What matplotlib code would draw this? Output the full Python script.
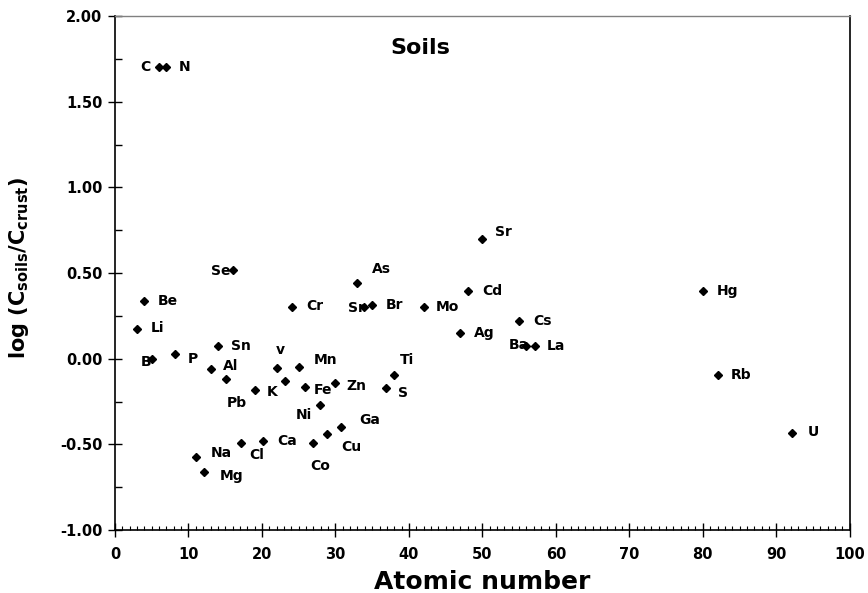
import matplotlib
matplotlib.use("Agg")
import matplotlib.pyplot as plt
from matplotlib.ticker import MultipleLocator, FormatStrFormatter

plt.rcParams['font.family'] = ['DejaVu Sans']
plt.rcParams['font.weight'] = 'bold'
plt.rcParams['mathtext.fontset'] = 'custom'
plt.rcParams['mathtext.rm'] = 'DejaVu Sans:bold'
plt.rcParams['mathtext.bf'] = 'DejaVu Sans:bold'
plt.rcParams['mathtext.it'] = 'DejaVu Sans:bold'

# Data points (atomic number position, log(Csoils/Ccrust))
point_x = [6.0, 7.0, 4.0, 3.0, 5.1, 8.1, 14.0, 13.0, 15.1, 16.1, 24.1,
           22.1, 25.1, 23.1, 19.1, 25.9, 29.9, 27.9, 30.8, 38.0, 36.9,
           32.9, 33.9, 35.0, 42.0, 50.0, 48.0, 55.0, 46.9, 56.0, 57.1,
           80.0, 82.0, 92.1, 11.0, 12.1, 17.1, 20.1, 26.9, 28.9]
point_y = [1.70, 1.70, 0.335, 0.173, 0.00, 0.026, 0.074, -0.06, -0.117, 0.518, 0.304,
           -0.056, -0.047, -0.128, -0.183, -0.167, -0.144, -0.27, -0.397, -0.095, -0.173,
           0.444, 0.30, 0.313, 0.30, 0.699, 0.397, 0.222, 0.152, 0.076, 0.076,
           0.395, -0.095, -0.432, -0.576, -0.663, -0.494, -0.48, -0.494, -0.44]

# Element labels (text, x, y in data coordinates)
label_text = ['C', 'N', 'Se', 'Be', 'Li', 'B', 'P', 'Sn', 'Al', 'v', 'Mn', 'Pb', 'K',
              'Fe', 'Zn', 'Ni', 'Ga', 'Ti', 'S', 'As', 'Sr', 'Br', 'Cr', 'Mo', 'Sr',
              'Cd', 'Cs', 'Ag', 'Ba', 'La', 'Hg', 'Rb', 'U', 'Na', 'Mg', 'Cl', 'Ca',
              'Co', 'Cu']
label_x = [4.1, 9.4, 14.4, 7.2, 5.85, 4.2, 10.6, 17.1, 15.8, 22.45, 28.6, 16.6, 21.4,
           28.3, 32.9, 25.7, 34.7, 39.7, 39.2, 36.3, 32.8, 38.1, 27.2, 45.2, 52.8,
           51.4, 58.2, 50.3, 55.0, 60.0, 83.3, 85.2, 95.0, 14.4, 15.9, 19.3, 23.4,
           27.9, 32.2]
label_y = [1.70, 1.70, 0.51, 0.337, 0.18, -0.02, 0.0, 0.074, -0.043, 0.05, -0.008, -0.26, -0.194,
           -0.18, -0.16, -0.33, -0.36, -0.008, -0.2, 0.523, 0.296, 0.313, 0.307, 0.30, 0.74,
           0.395, 0.22, 0.15, 0.08, 0.074, 0.395, -0.095, -0.43, -0.55, -0.685, -0.56, -0.48,
           -0.626, -0.515]

fig = plt.figure(figsize=(8.68, 5.93), dpi=100)
ax = fig.add_axes([0.1325, 0.1062, 0.8465, 0.8668])

ax.plot(point_x, point_y, linestyle='none', marker='D', markersize=4.3,
        color='black', zorder=3)

for t, x, y in zip(label_text, label_x, label_y):
    ax.text(x, y, t, ha='center', va='center', fontsize=10,
            fontweight='bold', zorder=4)

ax.text(41.5, 1.814, 'Soils', ha='center', va='center', fontsize=16,
        fontweight='bold')

ax.set_xlim(0, 100)
ax.set_ylim(-1.0, 2.0)
ax.xaxis.set_major_locator(MultipleLocator(10))
ax.xaxis.set_minor_locator(MultipleLocator(1))
ax.yaxis.set_major_locator(MultipleLocator(0.5))
ax.yaxis.set_minor_locator(MultipleLocator(0.25))
ax.yaxis.set_major_formatter(FormatStrFormatter('%.2f'))

ax.tick_params(axis='both', which='major', direction='inout', length=10,
               width=1, labelsize=10.5)
ax.tick_params(axis='y', which='major', pad=4)
ax.tick_params(axis='x', which='major', pad=7)
ax.tick_params(axis='y', which='minor', direction='in', length=5, width=1)
ax.tick_params(axis='x', which='minor', direction='in', length=3, width=0.8)
for lab in ax.get_xticklabels() + ax.get_yticklabels():
    lab.set_fontweight('bold')

for side in ['left', 'bottom', 'right']:
    ax.spines[side].set_color('black')
    ax.spines[side].set_linewidth(1.2)
ax.spines['top'].set_color('#808080')
ax.spines['top'].set_linewidth(1.0)

ax.set_xlabel('Atomic number', fontsize=18, fontweight='bold')
ax.xaxis.set_label_coords(0.5, -0.078)
ax.set_ylabel(r'log (C$_{\mathbf{soils}}$/C$_{\mathbf{crust}}$)', fontsize=15,
              fontweight='bold')
ax.yaxis.set_label_coords(-0.114, 0.51)

fig.savefig('out.png', dpi=100)
